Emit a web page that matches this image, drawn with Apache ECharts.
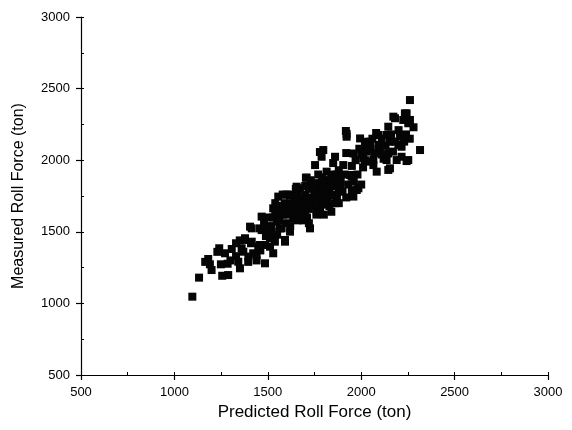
<!DOCTYPE html>
<html>
<head>
<meta charset="utf-8">
<script src="https://cdn.jsdelivr.net/npm/echarts@6/dist/echarts.min.js"></script>
<style>
html,body{margin:0;padding:0;background:#fff;}
#chart{width:572px;height:430px;}
</style>
</head>
<body>
<div id="chart"></div>
<script>
// Predicted roll force (x) and measured roll force (y), in ton
const predicted = [
1096,1132,1181,1190,1199,1256,1288,1249,1285,1351,1342,1485,1240,1307,1271,1360,1378,1396,1422,1449,1485,1529,1538,1592,1414,1467,1521,1574,1512,1619,
1165,1230,1330,1300,1395,1440,1460,1410,1350,1330,
1708,1672,1619,1556,1529,1467,1405,1414,1378,1369,1458,1503,1565,1592,1726,1637,1672,1708,1762,1815,1779,1833,1887,1887,1583,1547,1458,1512,1440,
1797,1860,1922,1958,2011,1788,1753,1704,1904,1949,1985,1958,1654,1672,1726,1797,1815,1851,1762,1672,2065,2083,2154,2145,2092,2047,2154,2190,1994,
1922,2172,2234,2252,2145,2136,2208,2092,2029,2315,2216,2252,2136,2065,2145,1940,1976,
2261,2243,2225,2261,2181,2199,2216,2243,
1480,1500,1520,1540,1560,1580,1600,1610,1620,1590,1560,1530,1500,1490,1550,1620,1640,1650,1660,1680,1690,1700,1700,1720,1730,1740,1750,1760,1770,1780,
1790,1800,1810,1820,1830,1840,1850,1860,1870,1880,1890,1900,1910,1920,1930,1950,1960,1970,1980,1990,2000,2010,2020,2030,2040,2050,2060,2070,2080,2100,
2110,2120,2130,2160,2170,2180,2200,2230,2240,2260,2280,2110,2020,
1620,1640,1660,1680,1700,1710,1720,1730,1740,1750,1760,1770,1780,1790,1800,1810,1820,1830,1840,1850,1860,1870,1880,1650,1600,1580,1700,1660,1640,1600,1570,1540,
1690,1720,1800,1840,1880,1920,1950,2000,1779,1918
];
const measured = [
1047,1180,1310,1273,1233,1193,1198,1273,1277,1245,1291,1280,1385,1380,1350,1385,1443,1327,1350,1396,1408,1350,1431,1431,1524,1512,1501,1524,1455,1501,
1290,1360,1330,1300,1290,1300,1370,1420,1440,1420,
1878,1804,1757,1746,1664,1606,1536,1431,1455,1361,1408,1489,1524,1443,1524,1594,1617,1676,1711,1734,1804,1827,1804,1874,1664,1571,1524,1396,1338,
2071,2024,2164,2047,2013,2024,1966,1878,1966,1885,1804,1746,1815,1734,1711,1827,1920,1757,1641,1629,1966,1920,1943,2047,2106,2129,2129,2001,2152,
2183,2304,2327,2258,2234,2176,2164,2176,2129,2071,2024,2001,2001,2001,1932,1897,1792,
2420,2327,2281,2281,2293,2106,2094,1994,
1560,1600,1540,1620,1580,1620,1560,1650,1700,1700,1680,1600,1520,1470,1480,1540,1650,1700,1580,1680,1720,1640,1760,1800,1740,1680,1780,1840,1760,1700,
1880,1780,1690,1860,1780,1900,1820,1860,1740,1930,1850,1780,1900,2050,1830,1960,1850,2000,1900,2080,2040,1950,2100,2060,1990,2080,2150,2050,2190,2080,
2150,2010,2100,2180,2060,2130,2210,2130,2180,2150,2230,2040,2000,
1760,1720,1760,1620,1700,1600,1660,1860,1820,1720,1620,1900,1650,1740,1860,1810,1720,1680,1760,1980,1700,1900,1790,1800,1760,1760,1820,1660,1600,1620,1660,1700,
1580,1560,1620,1640,1700,1740,1790,1830,2057,2204
];
const xTicks = [500, 1000, 1500, 2000, 2500, 3000];
const yTicks = [500, 1000, 1500, 2000, 2500, 3000];

const points = predicted.map((v, i) => [v, measured[i]]);
const font = 'Liberation Sans, Arial, sans-serif';
const chart = echarts.init(document.getElementById('chart'), null, {renderer: 'canvas'});
const axLine = {show: true, lineStyle: {color: '#000', width: 1.2}};
const plain = v => String(v);
chart.setOption({
  backgroundColor: '#fff',
  animation: false,
  grid: {left: 81, right: 24, top: 17, bottom: 55, containLabel: false},
  xAxis: [{
    type: 'value', position: 'bottom',
    min: xTicks[0], max: xTicks[xTicks.length - 1], interval: 500,
    name: 'Predicted Roll Force (ton)', nameLocation: 'middle', nameGap: 25,
    nameTextStyle: {fontFamily: font, fontSize: 17, color: '#000'},
    axisLine: axLine,
    axisTick: {show: true, inside: false, length: 5, lineStyle: {color: '#000', width: 1.2}},
    axisLabel: {fontFamily: font, fontSize: 13, color: '#000', margin: 11, formatter: plain},
    splitLine: {show: false}
  }, {
    type: 'value', position: 'bottom',
    min: xTicks[0], max: xTicks[xTicks.length - 1], interval: 250,
    axisLine: {show: false},
    axisTick: {show: true, inside: true, length: 3, lineStyle: {color: '#000', width: 1}},
    axisLabel: {show: false},
    splitLine: {show: false}
  }],
  yAxis: [{
    type: 'value', position: 'left',
    min: yTicks[0], max: yTicks[yTicks.length - 1], interval: 500,
    name: 'Measured Roll Force (ton)', nameLocation: 'middle', nameGap: 54,
    nameTextStyle: {fontFamily: font, fontSize: 16, color: '#000'},
    axisLine: axLine,
    axisTick: {show: true, inside: false, length: 5, lineStyle: {color: '#000', width: 1.2}},
    axisLabel: {fontFamily: font, fontSize: 13, color: '#000', margin: 11, formatter: plain},
    splitLine: {show: false}
  }, {
    type: 'value', position: 'left',
    min: yTicks[0], max: yTicks[yTicks.length - 1], interval: 250,
    axisLine: {show: false},
    axisTick: {show: true, inside: true, length: 3, lineStyle: {color: '#000', width: 1}},
    axisLabel: {show: false},
    splitLine: {show: false}
  }],
  series: [{
    type: 'scatter',
    xAxisIndex: 0, yAxisIndex: 0,
    symbol: 'rect',
    symbolSize: 8,
    itemStyle: {color: '#050505', opacity: 1},
    data: points
  }]
});
</script>
</body>
</html>
